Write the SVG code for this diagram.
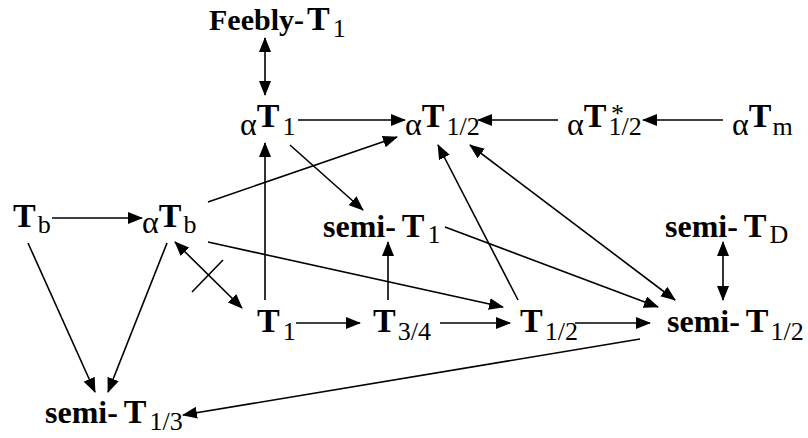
<svg xmlns="http://www.w3.org/2000/svg" width="808" height="438" viewBox="0 0 808 438">
<style>
text{font-family:"Liberation Serif","Times New Roman",serif;fill:#000}
.b{font-weight:bold;font-size:32px;word-spacing:-2px}
.f{font-weight:bold;font-size:30px}
.t{font-weight:bold;font-size:34px}
.s{font-size:26px}
.a{font-size:32px}
.c line{stroke:#000;stroke-width:1.6;fill:none}
.e{marker-end:url(#ah)}
.d{marker-start:url(#ah);marker-end:url(#ah)}
</style>
<defs>
<marker id="ah" viewBox="0 0 15 12" refX="14" refY="6" markerWidth="15" markerHeight="12" markerUnits="userSpaceOnUse" orient="auto-start-reverse">
<path d="M0,0 L15,6 L0,12 Z" fill="#000"/>
</marker>
</defs>
<rect width="808" height="438" fill="#fff"/>
<g id="feebly"><text x="209" y="30"><tspan class="f">Feebly-</tspan><tspan class="t" dx="3">T</tspan><tspan class="s" dx="3" dy="7">1</tspan></text></g>
<g id="aT1"><text x="240" y="135"><tspan class="a">α</tspan><tspan class="t" dy="-8">T</tspan><tspan class="s" dx="3" dy="8">1</tspan></text></g>
<g id="aT12"><text x="405" y="135"><tspan class="a">α</tspan><tspan class="t" dy="-8">T</tspan><tspan class="s" dx="2" dy="8">1/2</tspan></text></g>
<g id="aT12s"><text x="567" y="135"><tspan class="a">α</tspan><tspan class="t" dy="-8">T</tspan><tspan class="s" dx="2" dy="8">1/2</tspan></text><text class="s" x="611" y="122">*</text></g>
<g id="aTm"><text x="732" y="135"><tspan class="a">α</tspan><tspan class="t" dy="-8">T</tspan><tspan class="s" dx="1" dy="8">m</tspan></text></g>
<g id="Tb"><text x="13" y="227"><tspan class="t">T</tspan><tspan class="s" dx="2" dy="6">b</tspan></text></g>
<g id="aTb"><text x="142" y="233"><tspan class="a">α</tspan><tspan class="t" dy="-6">T</tspan><tspan class="s" dx="2" dy="6">b</tspan></text></g>
<g id="semiT1"><text x="323" y="237"><tspan class="b">semi- </tspan><tspan class="t">T</tspan><tspan class="s" dx="3" dy="6">1</tspan></text></g>
<g id="semiTD"><text x="665" y="237"><tspan class="b">semi- </tspan><tspan class="t">T</tspan><tspan class="s" dx="3" dy="6">D</tspan></text></g>
<g id="T1"><text x="257" y="332"><tspan class="t">T</tspan><tspan class="s" dx="3" dy="8">1</tspan></text></g>
<g id="T34"><text x="373" y="332"><tspan class="t">T</tspan><tspan class="s" dx="2" dy="8">3/4</tspan></text></g>
<g id="T12"><text x="520" y="332"><tspan class="t">T</tspan><tspan class="s" dx="2" dy="8">1/2</tspan></text></g>
<g id="semiT12"><text x="667" y="332"><tspan class="b">semi- </tspan><tspan class="t">T</tspan><tspan class="s" dx="2" dy="8">1/2</tspan></text></g>
<g id="semiT13"><text x="45" y="423"><tspan class="b">semi- </tspan><tspan class="t">T</tspan><tspan class="s" dx="3" dy="7">1/3</tspan></text></g>
<g id="connectors" class="c">
<line class="d" x1="265" y1="38" x2="265" y2="95"/>
<line class="e" x1="298" y1="120" x2="405" y2="120"/>
<line class="e" x1="558" y1="120" x2="478" y2="120"/>
<line class="e" x1="723" y1="120" x2="643" y2="120"/>
<line class="e" x1="52" y1="218" x2="142" y2="218"/>
<line class="e" x1="208" y1="202" x2="397" y2="137"/>
<line class="e" x1="208" y1="242" x2="503" y2="307"/>
<line class="d" x1="175" y1="242" x2="242" y2="308"/>
<line x1="192" y1="292" x2="223" y2="260"/>
<line class="e" x1="28" y1="243" x2="95" y2="392"/>
<line class="e" x1="167" y1="243" x2="108" y2="392"/>
<line class="e" x1="265" y1="300" x2="265" y2="143"/>
<line class="e" x1="290" y1="145" x2="363" y2="210"/>
<line class="e" x1="388" y1="300" x2="388" y2="242"/>
<line class="e" x1="518" y1="300" x2="438" y2="145"/>
<line class="d" x1="470" y1="145" x2="675" y2="300"/>
<line class="e" x1="445" y1="227" x2="658" y2="307"/>
<line class="d" x1="723" y1="242" x2="723" y2="300"/>
<line class="e" x1="296" y1="323" x2="360" y2="323"/>
<line class="e" x1="440" y1="323" x2="510" y2="323"/>
<line class="e" x1="575" y1="323" x2="650" y2="323"/>
<line class="e" x1="640" y1="339" x2="183" y2="415"/>
</g>
</svg>
